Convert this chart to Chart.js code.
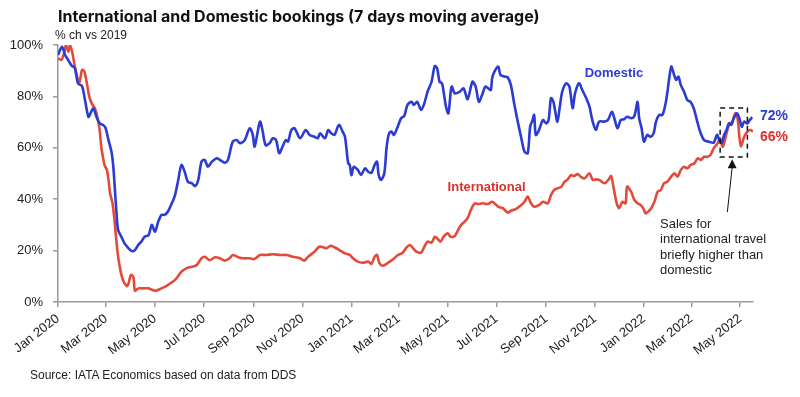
<!DOCTYPE html>
<html>
<head>
<meta charset="utf-8">
<script src="https://cdn.jsdelivr.net/npm/chart.js@4.4.1/dist/chart.umd.min.js"></script>
<style>
  html, body { margin: 0; padding: 0; background: #fff; }
  #wrap { position: relative; width: 800px; height: 397px; overflow: hidden; }
  #c { position: absolute; left: 0; top: 0; }
  .t { position: absolute; white-space: nowrap; color: #111; font-family: "Liberation Sans", Arial, sans-serif; }
  #title { left: 58px; top: 6px; font-family: Inter, "Liberation Sans", Arial, sans-serif; font-weight: 700; font-size: 16px; color: #111; }
  #sub { left: 55px; top: 28px; font-size: 12px; color: #222; }
  #src { left: 30px; top: 368px; font-size: 12px; color: #222; }
</style>
</head>
<body>
<div id="wrap">
  <canvas id="c" width="800" height="397"></canvas>
  <div class="t" id="title">International and Domestic bookings (7 days moving average)</div>
  <div class="t" id="sub">% ch vs 2019</div>
  <div class="t" id="src">Source: IATA Economics based on data from DDS</div>
</div>
<script>
// Days since 1 Jan 2020
const tickDays = [0, 60, 121, 182, 244, 305, 366, 425, 486, 547, 609, 670, 731, 790, 851];
const tickLabels = ['Jan 2020','Mar 2020','May 2020','Jul 2020','Sep 2020','Nov 2020','Jan 2021','Mar 2021','May 2021','Jul 2021','Sep 2021','Nov 2021','Jan 2022','Mar 2022','May 2022'];
const yTicks = [0, 20, 40, 60, 80, 100];

const domesticDays = [0,5,9,13,17,21,25,30,34,38,40,44,48,52,56,59,63,67,69,71,73,75,79,83,88,92,96,100,104,108,113,117,121,125,129,133,137,142,146,150,154,158,162,167,171,175,179,
183,187,192,198,202,208,212,218,223,227,233,239,243,245,248,252,255,259,264,268,272,276,280,284,287,291,295,302,309,314,320,324,327,333,337,341,345,349,351,355,358,
362,364,366,369,374,378,383,387,391,395,398,400,403,407,410,413,416,419,423,428,432,436,441,444,448,453,457,461,466,470,473,476,479,482,484,487,491,495,501,506,511,517,521,525,529,533,537,540,
542,549,552,557,561,565,569,574,578,582,586,589,592,594,596,600,605,609,612,615,618,620,623,626,629,634,638,642,645,650,654,659,663,667,671,675,682,686,691,694,698,702,706,710,715,719,
723,725,728,731,735,739,743,746,750,754,758,760,765,768,771,774,777,781,785,789,793,797,801,806,812,818,822,825,828,831,834,837,840,843,847,850,853,856,860,863,866];
const domesticValues = [96.1,99.3,96,94,92,91,85,84,78,72,73,75.4,72,69.5,68.9,68,63,58,52.6,43.6,34.6,28,25.4,22.8,20.9,19.8,20.2,22.2,23.5,25.4,26,30,27.4,31.2,33.9,33.9,35.1,38.4,41.6,47.5,53.3,50.7,46.8,46.2,45.1,47.5,54.6,
55.3,52.6,54.6,55.9,55.3,54.2,55.3,62.4,63,61.8,63,67.6,65,60.4,64.3,70.2,66.9,61,61.8,63.7,63,57.9,60.4,63,62.4,66.9,67.6,63.7,66.9,65,64.3,63.7,65.6,63.7,66.9,65.6,65,68.2,68.9,66.3,64.3,
54,53.3,49.4,52.6,51.4,49.4,52,50.7,50.3,53.3,54.6,49.4,47.5,50,60.4,65.6,66.3,65,67.6,71.5,72.4,76.7,77.9,76.7,77.9,74.7,77.3,81.8,85.7,91.8,90.9,85.7,85.1,79.9,76,73.4,83.8,81.2,81.8,83.1,78.9,85.7,83.8,77.9,80.5,83.8,83.1,82.5,
87.7,91.6,88.3,87.7,87.4,84.4,77.3,69.5,63.7,58.5,57.9,68.2,70.8,72.8,65,66.9,70.8,69.5,70.8,79.3,77.9,74.7,70.2,76,81.8,85.1,83.8,75.4,81.2,85.1,82.5,79.3,76,70.2,66.9,70.2,70.2,70.8,74,71.5,67.6,70.8,71.1,72.1,71.5,72.4,
77.9,71.5,67.6,62.4,65,64.3,65.6,70.2,72.8,72.8,77.3,81.2,91.6,89,86.4,87.7,84.4,81.8,78.6,77.9,75.4,70.8,66.3,63,62.4,62,65,63,61.8,65,66.9,69.5,68.9,71.5,73.4,71.5,68.2,70.2,69.5,70.8,71.9];

const intlDays = [0,4,7,10,13,15,18,21,25,27,30,33,36,39,42,46,49,52,54,58,61,63,65,68,70,72,74,77,81,86,88,91,94,96,100,106,113,121,129,137,146,154,160,167,173,179,
183,189,196,202,208,214,218,225,231,239,245,252,260,268,277,285,293,302,307,312,320,326,331,335,340,345,351,358,
364,368,374,380,387,391,395,398,401,405,412,418,424,430,434,439,443,447,453,457,461,466,470,473,477,481,486,490,495,499,503,507,511,515,520,524,530,536,
542,549,555,561,565,571,578,582,586,590,594,600,605,611,615,619,623,628,632,636,640,644,648,652,657,663,667,671,675,682,687,690,694,697,700,704,708,710,715,719,
723,727,730,733,736,740,744,748,752,756,760,765,769,773,777,781,785,789,794,798,802,806,810,814,818,823,826,829,832,835,838,841,845,848,850,852,856,860,864,867];
const intlValues = [94.8,94.2,96.1,100,97.4,100,96.8,91.6,86.4,85.7,90.3,89.6,85.1,79.9,77.3,75.4,72.1,66.9,60.4,53.3,51.4,47.5,42.3,38.4,33.2,26.7,20.2,13.7,8.6,6.2,7.3,10.5,9.8,4.4,5.3,5.3,5.3,4.4,5.3,6.6,8.6,11.8,13.1,13.7,14.4,17,
17.6,16.3,17.4,17,16.1,17,18.3,17.4,17,17,16.7,18.3,18.3,18.6,18.3,18.3,17.6,17,16.1,17.6,19.6,21.5,21.3,20.9,21.9,21.3,20.2,18.9,
18.3,17,15.7,15.3,15.7,14.8,17.6,18.3,15.1,14.1,15.3,16.6,18.3,19.2,20.9,22.2,20.9,19.6,19.2,21.5,23.5,23.1,25.4,24.8,23.5,25.4,26.7,25.4,25.7,28,30,31.2,32.6,35.8,38.4,38.1,38.4,38.1,
39,37.1,36.5,34.8,35.5,36.1,37.7,39,41,38.4,37.1,37.7,39,38.4,41.6,43.6,44.2,44.9,46.8,47.7,49.4,49,49.8,48.8,48.1,50.1,47.5,47.7,47.5,46.2,47.7,49,42.9,38.4,36.5,39,38.4,44.9,42.9,39.7,
38.4,37.7,36.5,34.5,35.1,36.5,39,42.9,43.6,46.2,46.8,48.8,50.1,48.8,51.4,52.6,52,53.3,54,55.9,55.3,56.5,56.5,57.2,59.8,61.8,63.7,60.4,63,66.9,69.5,70,73.5,70.8,64.3,60.5,64.3,66.3,66.9,66.3];

const BLUE = '#2b3bd3';
const RED = '#e34a3a';

const toPts = (d, v) => d.map((x, i) => ({ x: x, y: v[i] }));

const annot = {
  id: 'annot',
  afterDraw(chart) {
    const ctx = chart.ctx, xs = chart.scales.x, ys = chart.scales.y, ca = chart.chartArea;
    ctx.save();
    ctx.textBaseline = 'middle';
    ctx.textAlign = 'left';
    // series labels
    ctx.font = 'bold 13px "Liberation Sans", Arial, sans-serif';
    ctx.fillStyle = BLUE;
    ctx.fillText('Domestic', xs.getPixelForValue(657), ys.getPixelForValue(89));
    ctx.fillStyle = '#d9322b';
    ctx.fillText('International', xs.getPixelForValue(486), ys.getPixelForValue(44.7));
    // end labels
    ctx.font = 'bold 14px "Liberation Sans", Arial, sans-serif';
    ctx.fillStyle = BLUE;
    ctx.fillText(Math.round(domesticValues[domesticValues.length - 1]) + '%', ca.right + 7, ys.getPixelForValue(72.5));
    ctx.fillStyle = '#e0302a';
    ctx.fillText(Math.round(intlValues[intlValues.length - 1]) + '%', ca.right + 7, ys.getPixelForValue(64));
    // dashed box
    ctx.strokeStyle = '#111';
    ctx.lineWidth = 1.5;
    ctx.setLineDash([5, 4]);
    const bx1 = xs.getPixelForValue(826), bx2 = xs.getPixelForValue(860);
    const by1 = ys.getPixelForValue(75.5), by2 = ys.getPixelForValue(56.4);
    ctx.strokeRect(bx1, by1, bx2 - bx1, by2 - by1);
    ctx.setLineDash([]);
    // arrow
    const ax1 = xs.getPixelForValue(835), ay1 = ys.getPixelForValue(35);
    const ax2 = xs.getPixelForValue(841), ay2 = ys.getPixelForValue(55.5);
    ctx.lineWidth = 1;
    ctx.strokeStyle = '#111';
    ctx.beginPath(); ctx.moveTo(ax1, ay1); ctx.lineTo(ax2, ay2 + 8); ctx.stroke();
    ctx.fillStyle = '#111';
    ctx.beginPath();
    ctx.moveTo(ax2, ay2);
    ctx.lineTo(ax2 - 4.5, ay2 + 9);
    ctx.lineTo(ax2 + 4.5, ay2 + 9);
    ctx.closePath(); ctx.fill();
    // note text
    ctx.font = '13px "Liberation Sans", Arial, sans-serif';
    ctx.fillStyle = '#222';
    const nx = xs.getPixelForValue(751);
    const lines = ['Sales for', 'international travel', 'briefly higher than', 'domestic'];
    const ly0 = ys.getPixelForValue(30.2);
    lines.forEach((s, i) => ctx.fillText(s, nx, ly0 + i * 15.5));
    ctx.restore();
  }
};

new Chart(document.getElementById('c'), {
  type: 'line',
  data: {
    datasets: [
      { label: 'Domestic', data: toPts(domesticDays, domesticValues), borderColor: BLUE, borderWidth: 2.6, pointRadius: 0, tension: 0.3, fill: false },
      { label: 'International', data: toPts(intlDays, intlValues), borderColor: RED, borderWidth: 2.6, pointRadius: 0, tension: 0.3, fill: false }
    ]
  },
  options: {
    responsive: false,
    animation: false,
    events: [],
    layout: { padding: { top: 45, right: 47, bottom: 0, left: 0 } },
    plugins: { legend: { display: false }, tooltip: { enabled: false }, title: { display: false } },
    scales: {
      x: {
        type: 'linear',
        min: 0, max: 867,
        afterFit(s) { s.height = 95; },
        afterBuildTicks(s) { s.ticks = tickDays.map(v => ({ value: v })); },
        border: { display: true, color: '#9a9a9a', width: 1.5 },
        grid: { display: true, drawOnChartArea: false, drawTicks: true, tickLength: 5, color: '#9a9a9a', lineWidth: 1.5 },
        ticks: {
          autoSkip: false, minRotation: 38, maxRotation: 38, padding: 4,
          color: '#222', font: { family: '"Liberation Sans", Arial, sans-serif', size: 13 },
          callback(v) { const i = tickDays.indexOf(v); return i >= 0 ? tickLabels[i] : ''; }
        }
      },
      y: {
        min: 0, max: 100,
        afterFit(s) { s.width = 58; },
        afterBuildTicks(s) { s.ticks = yTicks.map(v => ({ value: v })); },
        border: { display: true, color: '#9a9a9a', width: 1.5 },
        grid: { display: true, drawOnChartArea: false, drawTicks: true, tickLength: 5, color: '#9a9a9a', lineWidth: 1.5 },
        ticks: {
          padding: 10, color: '#222', font: { family: '"Liberation Sans", Arial, sans-serif', size: 13 },
          callback(v) { return v + '%'; }
        }
      }
    }
  },
  plugins: [annot]
});
</script>
</body>
</html>
